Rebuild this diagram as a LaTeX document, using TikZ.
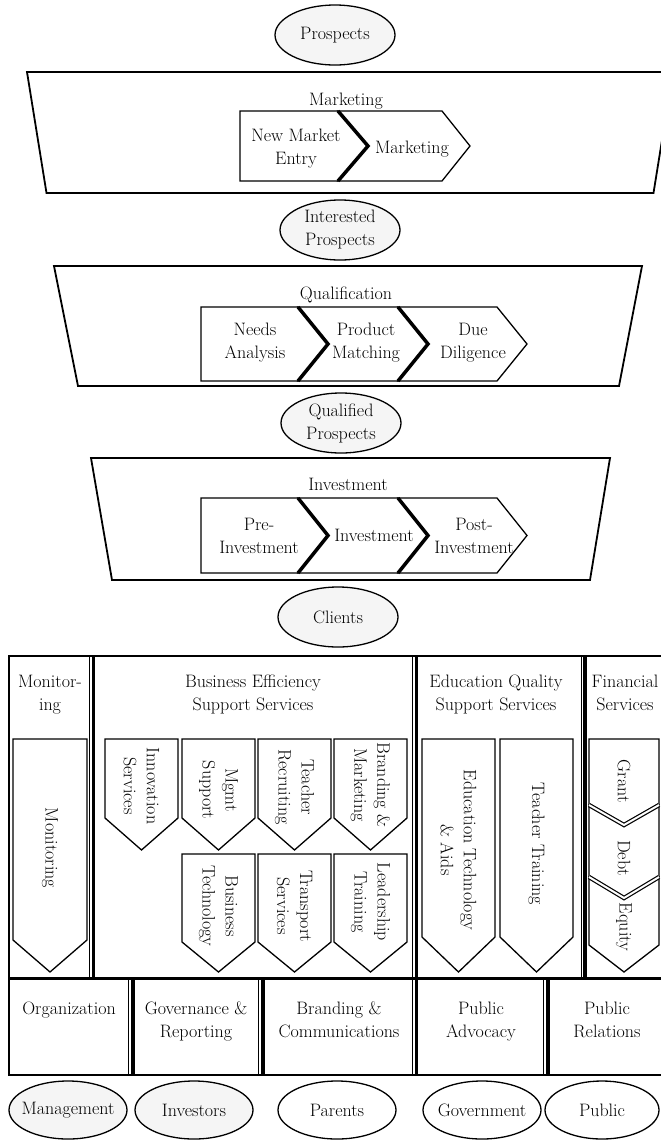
\documentclass[tikz,border=0pt]{standalone}
\usetikzlibrary{shapes.geometric}

\begin{document}
\begin{tikzpicture}[x=1pt,y=-1pt,
    txt/.style={font=\fontsize{18}{23}\selectfont, align=center, inner sep=0pt},
    vtxt/.style={txt, rotate=-90},
    blob/.style={txt, ellipse, draw, line width=1.3pt, minimum width=120pt, minimum height=60pt, fill=black!4},
    party/.style={txt, ellipse, draw, line width=1.3pt, minimum width=118pt, minimum height=58pt, inner xsep=-9pt},
    funnel/.style={line width=1.8pt, line join=miter},
    chev/.style={line width=1.3pt, line join=miter},
    bar/.style={line width=3.5pt},
    fsep/.style={double, line width=1.2pt, double distance=2pt},
    rule/.style={line width=1pt},
    frame/.style={line width=2.5pt}]
        \useasboundingbox (0,0) rectangle (661,1141); % page size
        \clip (0,0) rectangle (661,1141);
        % funnel stages
        \draw[funnel] (27,72) -- (673,72) -- (653.5,193) -- (46.5,193) -- cycle; % marketing
        \draw[funnel] (54,266) -- (642,266) -- (619,386) -- (78,386) -- cycle; % qualification
        \draw[funnel] (91,458) -- (610,458) -- (590,580) -- (112,580) -- cycle; % investment
        % marketing chevrons
        \draw[chev] (240,111) -- (338,111) -- (368,146) -- (338,181) -- (240,181) -- cycle;
        \draw[chev] (338,111) -- (442,111) -- (470,146) -- (442,181) -- (338,181) -- (368,146) -- cycle;
        \draw[bar] (338,111) -- (368,146) -- (338,181); % joint
        % qualification chevrons
        \draw[chev] (201,307) -- (298,307) -- (328,344) -- (298,381) -- (201,381) -- cycle;
        \draw[chev] (298,307) -- (398,307) -- (428,344) -- (398,381) -- (298,381) -- (328,344) -- cycle;
        \draw[chev] (398,307) -- (497,307) -- (527,344) -- (497,381) -- (398,381) -- (428,344) -- cycle;
        \draw[bar] (298,307) -- (328,344) -- (298,381); % joint
        \draw[bar] (398,307) -- (428,344) -- (398,381); % joint
        % investment chevrons
        \draw[chev] (201,498) -- (298,498) -- (328,535.5) -- (298,573) -- (201,573) -- cycle;
        \draw[chev] (298,498) -- (398,498) -- (428,535.5) -- (398,573) -- (298,573) -- (328,535.5) -- cycle;
        \draw[chev] (398,498) -- (497,498) -- (527,535.5) -- (497,573) -- (398,573) -- (428,535.5) -- cycle;
        \draw[bar] (298,498) -- (328,535.5) -- (298,573); % joint
        \draw[bar] (398,498) -- (428,535.5) -- (398,573); % joint
        % stage labels
        \node[txt, anchor=base] (mktlbl) at (346,105) {Marketing};
        \node[txt, anchor=base] (quallbl) at (346,299) {Qualification};
        \node[txt, anchor=base] (invlbl) at (348,490) {Investment};
        \node[txt, anchor=north] (entry) at (296,129) {New Market\\Entry};
        \node[txt, anchor=base] (mkt) at (412,153) {Marketing};
        \node[txt, anchor=north] (needs) at (255,322.5) {Needs\\Analysis};
        \node[txt, anchor=north] (match) at (366,322.5) {Product\\Matching};
        \node[txt, anchor=north] (due) at (473,322.5) {Due\\Diligence};
        \node[txt, anchor=north] (preinv) at (259,517.5) {Pre-\\Investment};
        \node[txt, anchor=base] (inv) at (374,541.7) {Investment};
        \node[txt, anchor=north] (postinv) at (474,517.5) {Post-\\Investment};
        % prospect pools
        \node[blob] (prospects) at (335,35) {Prospects};
        \node[blob] (interested) at (340,230) {Interested\\Prospects};
        \node[blob] (qualified) at (341,423) {Qualified\\Prospects};
        \node[blob] (clients) at (338,617) {Clients};
        % services frame
        \draw[frame] (9,656) rectangle (670,978);
        \draw[rule] (89,656) -- (89,978); \draw[bar] (93.5,656) -- (93.5,978);
        \draw[rule] (412,656) -- (412,978); \draw[bar] (416.5,656) -- (416.5,978);
        \draw[rule] (581,656) -- (581,978); \draw[bar] (585,656) -- (585,978);
        \node[txt, anchor=north] (monhd) at (50,675) {Monitor-\\ing};
        \node[txt, anchor=north] (beshd) at (253,675) {Business Efficiency\\Support Services};
        \node[txt, anchor=north] (eqshd) at (496,675) {Education Quality\\Support Services};
        \node[txt, anchor=north] (fshd) at (625,675) {Financial\\Services};
        % monitoring column
        \draw[chev] (13,739) -- (87,739) -- (87,940) -- (50,972) -- (13,940) -- cycle;
        \node[vtxt] (mon) at (50,848) {Monitoring};
        % business efficiency, upper row
        \draw[chev] (105,739) -- (178,739) -- (178,818) -- (141.5,850) -- (105,818) -- cycle;
        \draw[chev] (182,739) -- (255,739) -- (255,818) -- (218.5,850) -- (182,818) -- cycle;
        \draw[chev] (258,739) -- (331,739) -- (331,818) -- (294.5,850) -- (258,818) -- cycle;
        \draw[chev] (334,739) -- (407,739) -- (407,818) -- (370.5,850) -- (334,818) -- cycle;
        \node[vtxt] (innov) at (141.5,786) {Innovation\\Services};
        \node[vtxt] (mgmtsup) at (218.5,790) {Mgmt\\Support};
        \node[vtxt] (recruit) at (294.5,787) {Teacher\\Recruiting};
        \node[vtxt] (brandmkt) at (370.5,785) {Branding \&\\Marketing};
        % business efficiency, lower row
        \draw[chev] (182,854) -- (255,854) -- (255,942) -- (218.5,972) -- (182,942) -- cycle;
        \draw[chev] (258,854) -- (331,854) -- (331,942) -- (294.5,972) -- (258,942) -- cycle;
        \draw[chev] (334,854) -- (407,854) -- (407,942) -- (370.5,972) -- (334,942) -- cycle;
        \node[vtxt] (bustech) at (218.5,906) {Business\\Technology};
        \node[vtxt] (transport) at (294.5,906) {Transport\\Services};
        \node[vtxt] (leader) at (370.5,902) {Leadership\\Training};
        % education quality
        \draw[chev] (422,739) -- (495,739) -- (495,937) -- (458.5,972) -- (422,937) -- cycle;
        \draw[chev] (500,739) -- (573,739) -- (573,937) -- (536.5,972) -- (500,937) -- cycle;
        \node[vtxt] (edtech) at (458.5,850) {Education Technology\\\& Aids};
        \node[vtxt] (training) at (536.5,844) {Teacher Training};
        % financial services
        \draw[chev] (589,739) -- (659,739) -- (659,805) -- (624,825) -- (589,805) -- cycle;
        \draw[chev] (589,805) -- (624,825) -- (659,805) -- (659,877) -- (624,898) -- (589,877) -- cycle;
        \draw[chev] (589,877) -- (624,898) -- (659,877) -- (659,945) -- (624,972) -- (589,945) -- cycle;
        \draw[fsep] (589,805) -- (624,825) -- (659,805); % joint
        \draw[fsep] (589,877) -- (624,898) -- (659,877); % joint
        \node[vtxt] (grant) at (624,781) {Grant};
        \node[vtxt] (debt) at (624,858) {Debt};
        \node[vtxt] (equity) at (624,927) {Equity};
        % stakeholder row
        \draw[frame] (9,979) rectangle (670,1075);
        \draw[rule] (128,979) -- (128,1075); \draw[bar] (133,979) -- (133,1075);
        \draw[rule] (258,979) -- (258,1075); \draw[bar] (263,979) -- (263,1075);
        \draw[rule] (412,979) -- (412,1075); \draw[bar] (416.5,979) -- (416.5,1075);
        \draw[rule] (543,979) -- (543,1075); \draw[bar] (548,979) -- (548,1075);
        \node[txt, anchor=north] (org) at (69,1002) {Organization};
        \node[txt, anchor=north] (gov) at (196,1002) {Governance \&\\Reporting};
        \node[txt, anchor=north] (brandcom) at (339,1002) {Branding \&\\Communications};
        \node[txt, anchor=north] (advocacy) at (481,1002) {Public\\Advocacy};
        \node[txt, anchor=north] (relations) at (607,1002) {Public\\Relations};
        % stakeholders
        \node[party, fill=black!4] (mgmt) at (68,1110) {Management};
        \node[party, fill=black!4] (investors) at (194,1110) {Investors};
        \node[party] (parents) at (337,1110) {Parents};
        \node[party] (government) at (482,1110) {Government};
        \node[party, minimum width=114pt] (public) at (602,1110) {Public};
      \end{tikzpicture}
\end{document}
